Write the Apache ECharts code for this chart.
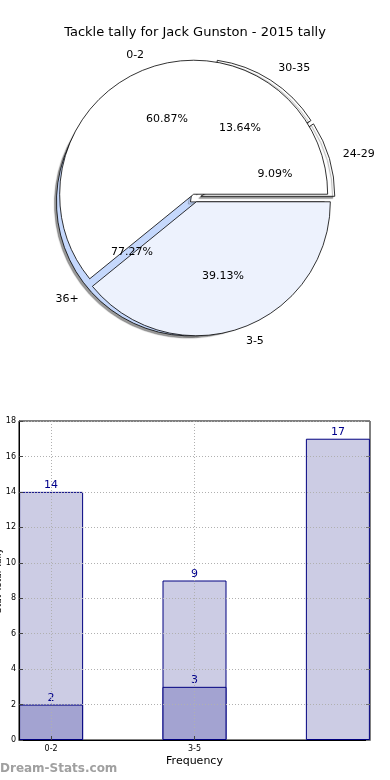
<!DOCTYPE html>
<html><head><meta charset="utf-8">
<script src="https://cdn.jsdelivr.net/npm/echarts@6/dist/echarts.min.js"></script>
<style>html,body{margin:0;padding:0;background:#fff}#c{width:390px;height:780px}</style>
</head><body><div id="c"></div>
<script>
// ---- data ----
const titleText = 'Tackle tally for Jack Gunston - 2015 tally';
const pieACategories = ['0-2', '3-5'];
const pieAValues = [14, 9];
const pieBCategories = ['24-29', '30-35', '36+'];
const pieBValues = [2, 3, 17];
const barTickPositions = [0, 1];
const barTickLabels = ['0-2', '3-5'];
const barPositions = [0, 1, 2];
const totalValues = [14, 9, 17];
const partValues = [2, 3];
const xAxisTitle = 'Frequency';
const yAxisTitle = 'Stat Total Tally';
const watermark = 'Dream-Stats.com';

// ---- styles ----
const pieAColors = ['#ffffff', '#edf2fd'];
const pieBColors = ['#ffffff', '#ffffff', '#c5d8fc'];
const FONT = 'DejaVu Sans';
const CENTER = [195, 198];
const R = 134;

function pieData(names, values, colors, extra) {
  return names.map((n, i) => Object.assign({
    name: n, value: values[i], selected: true,
    itemStyle: Object.assign({ color: colors[i], borderColor: '#000', borderWidth: 0.8 }, extra || {})
  }));
}

const chart = echarts.init(document.getElementById('c'), null, { renderer: 'canvas' });
const labelCommon = { color: '#000', fontFamily: FONT, fontSize: 11 };

const option = {
  animation: false,
  title: {
    text: titleText, left: 'center', top: 21,
    textStyle: { fontFamily: FONT, fontSize: 13, fontWeight: 'normal', color: '#000' }
  },
  grid: {
    left: 19, right: 20, top: 421, bottom: 40,
    outerBoundsMode: 'none', containLabel: false,
    show: true, borderColor: '#000', borderWidth: 1, backgroundColor: '#fff'
  },
  xAxis: {
    type: 'value', min: -0.224, max: 2.224, z: 3,
    name: xAxisTitle, nameLocation: 'middle', nameGap: 16, nameMoveOverlap: false,
    nameTextStyle: { fontFamily: FONT, fontSize: 11, color: '#000' },
    axisLine: { show: true, onZero: false, lineStyle: { color: '#000' } },
    axisTick: { show: true, inside: true, length: 4, lineStyle: { color: '#444' }, customValues: barTickPositions },
    axisLabel: {
      fontFamily: FONT, fontSize: 8, color: '#000', margin: 5,
      customValues: barTickPositions,
      formatter: v => { const i = barTickPositions.indexOf(Math.round(v)); return i >= 0 ? barTickLabels[i] : ''; }
    },
    splitLine: { show: true, lineStyle: { color: '#b0b0b0', type: [1, 2], width: 1 } }
  },
  yAxis: [{
    type: 'value', min: 0, max: 18, interval: 2, z: 3,
    name: yAxisTitle, nameLocation: 'middle', nameGap: 16, nameRotate: 90, nameMoveOverlap: false,
    nameTextStyle: { fontFamily: FONT, fontSize: 9, color: '#000' },
    axisLine: { show: true, onZero: false, lineStyle: { color: '#000' } },
    axisTick: { show: true, inside: true, length: 4, lineStyle: { color: '#444' } },
    axisLabel: { fontFamily: FONT, fontSize: 8, color: '#000', margin: 3 },
    splitLine: { show: true, lineStyle: { color: '#b0b0b0', type: [1, 2], width: 1 } }
  }, {
    type: 'value', min: 0, max: 18, interval: 2, position: 'right', z: 3,
    axisLine: { show: false, onZero: false },
    axisTick: { show: true, inside: true, length: 4, lineStyle: { color: '#777' } },
    axisLabel: { show: false },
    splitLine: { show: false }
  }],
  graphic: [{
    type: 'text', left: 0, top: 763,
    style: { text: watermark, fontFamily: FONT, fontSize: 12, fontWeight: 'bold', fill: '#a0a0a0' }
  }],
  series: [
    // pie B (behind)
    {
      type: 'pie', center: CENTER, radius: R, startAngle: 0, clockwise: false,
      selectedMode: 'multiple', selectedOffset: 6, avoidLabelOverlap: false, z: 1,
      data: pieData(pieBCategories, pieBValues, pieBColors,
        { shadowColor: 'rgba(0,0,0,0.4)', shadowBlur: 1, shadowOffsetX: -2, shadowOffsetY: 2 }),
      label: Object.assign({ show: true, position: 'outside', formatter: '{b}', distanceToLabelLine: 0 }, labelCommon),
      labelLine: { show: false, length: 14, length2: 0 },
      emphasis: { disabled: true }
    },
    // pie A (front)
    {
      type: 'pie', center: CENTER, radius: R, startAngle: 0, clockwise: false,
      selectedMode: 'multiple', selectedOffset: 4, avoidLabelOverlap: false, z: 2,
      data: pieData(pieACategories, pieAValues, pieAColors),
      label: Object.assign({ show: true, position: 'outside', formatter: '{b}', distanceToLabelLine: 0 }, labelCommon),
      labelLine: { show: false, length: 14, length2: 0 },
      emphasis: { disabled: true }
    },
    // percentage labels pie B
    {
      type: 'pie', center: CENTER, radius: [R * 0.2, R], startAngle: 0, clockwise: false,
      silent: true, avoidLabelOverlap: false, z: 4,
      data: pieBCategories.map((n, i) => ({ name: n, value: pieBValues[i] })),
      itemStyle: { color: 'rgba(0,0,0,0)', borderWidth: 0 },
      label: Object.assign({ show: true, position: 'inside', formatter: '{d}%' }, labelCommon),
      labelLine: { show: false }
    },
    // percentage labels pie A
    {
      type: 'pie', center: CENTER, radius: [R * 0.2, R], startAngle: 0, clockwise: false,
      silent: true, avoidLabelOverlap: false, z: 4,
      data: pieACategories.map((n, i) => ({ name: n, value: pieAValues[i] })),
      itemStyle: { color: 'rgba(0,0,0,0)', borderWidth: 0 },
      label: Object.assign({ show: true, position: 'inside', formatter: '{d}%' }, labelCommon),
      labelLine: { show: false }
    },
    // bars
    {
      type: 'bar', barWidth: 64, barGap: '-100%', z: 2,
      data: barPositions.map((x, i) => [x, totalValues[i]]),
      itemStyle: { color: '#cccce4', borderColor: '#000080', borderWidth: 1 },
      label: { show: true, position: 'top', distance: 1, color: '#00008b', fontFamily: FONT, fontSize: 11 }
    },
    {
      type: 'bar', barWidth: 64, barGap: '-100%', z: 2,
      data: partValues.map((v, i) => [barPositions[i], v]),
      itemStyle: { color: '#a3a3d1', borderColor: '#000080', borderWidth: 1 },
      label: { show: true, position: 'top', distance: 1, color: '#00008b', fontFamily: FONT, fontSize: 11 }
    }
  ]
};
chart.setOption(option);
</script></body></html>
